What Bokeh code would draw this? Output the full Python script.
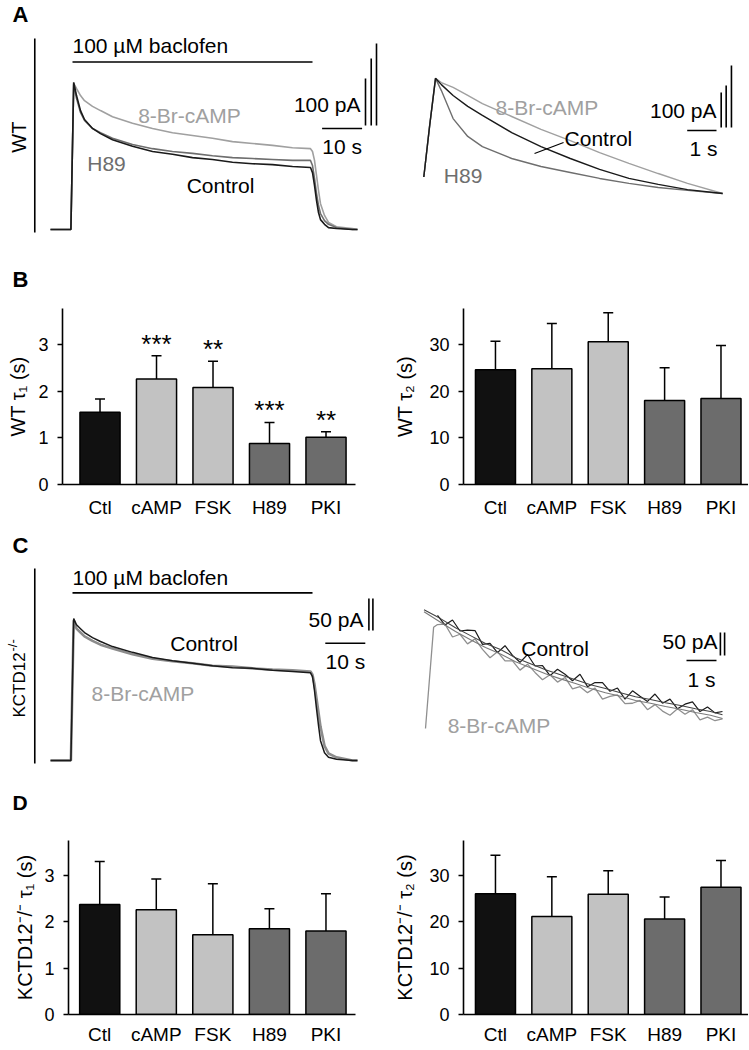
import math
from bokeh.plotting import figure
from bokeh.models import Range1d, FixedTicker, ColumnDataSource, Whisker, TeeHead
from bokeh.layouts import column, row
from bokeh.embed import file_html
from bokeh.resources import INLINE
from bokeh.core.properties import value

FONT = "Liberation Sans"

# ---------------- bar chart data ----------------
categories = ["Ctl", "cAMP", "FSK", "H89", "PKI"]
bar_colors = ["#111111", "#c2c2c2", "#c2c2c2", "#6c6c6c", "#6c6c6c"]

wt_tau1_mean = [1.55, 2.26, 2.08, 0.88, 1.01]
wt_tau1_err = [0.28, 0.50, 0.56, 0.45, 0.12]
wt_tau1_sig = ["", "***", "**", "***", "**"]

wt_tau2_mean = [24.6, 24.8, 30.6, 18.0, 18.4]
wt_tau2_err = [6.1, 9.7, 6.2, 7.0, 11.4]

ko_tau1_mean = [2.37, 2.26, 1.72, 1.85, 1.80]
ko_tau1_err = [0.93, 0.66, 1.10, 0.43, 0.80]

ko_tau2_mean = [26.0, 21.1, 25.9, 20.6, 27.4]
ko_tau2_err = [8.3, 8.6, 5.1, 4.7, 5.8]

tau1_ticks = [0, 1, 2, 3]
tau2_ticks = [0, 10, 20, 30]

# ---------------- trace data (A, WT) ----------------
wt_time_s = [-5.5, -1, -0.4, 0.3, 1, 2, 3, 5, 7, 10, 15, 20, 25, 30, 35, 40, 45, 50, 55,
             59.5, 60, 60.5, 61, 61.5, 62, 63, 64, 66, 70, 71.25]
wt_control_pA = [0, 0, 0, 313, 285, 253, 234, 215, 204, 191, 177, 166, 160, 153, 149, 143, 140,
                 138, 134, 132, 121, 94, 62, 36, 21, 11, 4, 2, 0, 0]
wt_camp_pA = [0, 0, 0, 311, 300, 285, 274, 262, 253, 240, 226, 215, 206, 200, 194, 187, 183,
              179, 174, 172, 166, 147, 115, 83, 55, 30, 15, 6, 2, 0]
wt_h89_pA = [0, 0, 0, 309, 279, 249, 232, 215, 206, 194, 181, 172, 166, 162, 157, 153, 151,
             149, 147, 147, 136, 109, 77, 51, 34, 19, 11, 4, 0, 0]

wt_zoom_time_s = [0, 0.2, 0.4, 0.6, 1.0, 1.5, 2, 3, 4, 5, 6, 7, 8, 9, 10.2]
wt_zoom_camp = [67, 214, 349, 337, 323, 300, 277, 240, 203, 171, 137, 106, 77, 49, 20]
wt_zoom_control = [67, 214, 349, 331, 300, 269, 243, 194, 154, 120, 89, 63, 46, 31, 20]
wt_zoom_h89 = [67, 214, 349, 314, 234, 183, 154, 120, 97, 80, 63, 49, 37, 29, 20]

# ---------------- trace data (C, KCTD12-/-) ----------------
ko_time_s = wt_time_s
ko_control_pA = [0, 0, 0, 222, 212, 206, 200, 192, 186, 178, 169, 161, 156, 152, 148, 145, 144,
                 141, 139, 137, 131, 109, 81, 55, 31, 12, 5, 2, 0, 0]
ko_camp_pA = [0, 0, 0, 219, 206, 200, 194, 187, 181, 175, 166, 159, 155, 152, 148, 147, 144,
              142, 141, 139, 134, 119, 97, 75, 53, 23, 11, 5, 0, 0]

ko_zoom_time_black = [0.4, 0.65, 0.9, 1.15, 1.4, 1.65, 1.9, 2.15, 2.4, 2.65, 2.9, 3.15, 3.4,
                      3.65, 3.9, 4.15, 4.4, 4.65, 4.9, 5.15, 5.4, 5.65, 5.9, 6.15, 6.4, 6.65,
                      6.9, 7.15, 7.4, 7.65, 7.9, 8.15, 8.4, 8.65, 8.9, 9.15, 9.4, 9.65, 9.9]
ko_zoom_control = [272, 251, 262, 238, 240, 239, 209, 211, 191, 206, 185, 170, 187, 162, 163,
                   141, 155, 144, 130, 144, 117, 126, 126, 107, 114, 90, 108, 96, 85, 101, 81,
                   90, 69, 79, 84, 63, 73, 60, 63]
ko_zoom_time_grey = [0, 0.27, 0.4, 0.65, 0.9, 1.15, 1.4, 1.65, 1.9, 2.15, 2.4, 2.65, 2.9, 3.15,
                     3.4, 3.65, 3.9, 4.15, 4.4, 4.65, 4.9, 5.15, 5.4, 5.65, 5.9, 6.15, 6.4,
                     6.65, 6.9, 7.15, 7.4, 7.65, 7.9, 8.15, 8.4, 8.65, 8.9, 9.15, 9.4, 9.65, 9.9]
ko_zoom_camp = [26, 246, 252, 253, 225, 231, 210, 221, 198, 180, 193, 173, 173, 153, 166, 148,
                132, 143, 127, 137, 112, 117, 104, 114, 90, 96, 99, 80, 81, 87, 67, 78, 64, 55,
                69, 57, 67, 45, 51, 43, 47]
ko_fit_time = [-0.05, 0.5, 1, 1.5, 2, 2.5, 3, 3.5, 4, 4.5, 5, 5.5, 6, 6.5, 7, 7.5, 8, 8.5, 9,
               9.5, 9.9]
ko_fit_control = [284, 265, 245, 228, 211, 198, 180, 167, 154, 143, 132, 121, 113, 104, 95, 89,
                  82, 76, 69, 63, 56]
ko_fit_camp = [280, 257, 237, 219, 202, 188, 171, 158, 145, 134, 124, 113, 104, 96, 87, 81, 74,
               68, 61, 55, 48]

# scale bar sizes
wt_scale_pA = [100, 142.5, 174.5]
wt_zoom_scale_pA = [100, 120, 177]
ko_scale_pA = [50, 50]

BLACK = "#1a1a1a"
GREY_L = "#a0a0a0"
GREY_D = "#6e6e6e"


def trace_fig(w, h, xr, yr):
    p = figure(width=w, height=h, x_range=Range1d(*xr), y_range=Range1d(*yr),
               output_backend="svg", toolbar_location=None, x_axis_type=None, y_axis_type=None,
               min_border=0, min_border_left=0, min_border_right=0, min_border_top=0,
               min_border_bottom=0)
    p.grid.visible = False
    p.outline_line_color = None
    p.background_fill_color = "white"
    return p


def txt(p, x, y, s, size="21px", color="black", align="center", baseline="middle", angle=0.0,
        bold=False):
    p.text(x=[x], y=[y], text=[s], text_font=value(FONT), text_font_size=size,
           text_color=color, text_align=align, text_baseline=baseline, angle=angle,
           text_font_style="bold" if bold else "normal")


def vscale(p, xs, base, heights, lw=1.6):
    p.segment(x0=xs, y0=[base] * len(xs), x1=xs, y1=[base + h for h in heights],
              line_color="black", line_width=lw)


# ---------------- A left ----------------
a1 = trace_fig(378, 292, (-18, 76.5), (-134.0, 487.2))
a1.segment(x0=[-9.43], y0=[-6.4], x1=[-9.43], y1=[406.4], line_color="black", line_width=1.6)
a1.segment(x0=[0], y0=[356.4], x1=[60], y1=[356.4], line_color="black", line_width=1.6)
txt(a1, 0, 391.5, "100 µM baclofen", align="left")
a1.line(wt_time_s, wt_camp_pA, line_color=GREY_L, line_width=1.6)
a1.line(wt_time_s, wt_h89_pA, line_color=GREY_D, line_width=1.6)
a1.line(wt_time_s, wt_control_pA, line_color=BLACK, line_width=1.6)
txt(a1, 29.25, 242.6, "8-Br-cAMP", color=GREY_L)
txt(a1, 8.5, 140.4, "H89", color=GREY_D)
txt(a1, 37, 93.6, "Control")
txt(a1, 72, 266, "100 pA", align="right")
vscale(a1, [73.25, 74.68, 76.0], 221.3, wt_scale_pA)
a1.segment(x0=[62.4], y0=[214.9], x1=[72.4], y1=[214.9], line_color="black", line_width=1.6)
txt(a1, 67.4, 176.6, "10 s")
txt(a1, -13.4, 196.4, "WT", size="20px", angle=math.pi / 2)
txt(a1, -15, 456.4, "A", size="22px", align="left", bold=True)
txt(a1, -15, -107.4, "B", size="22px", align="left", bold=True)

# ---------------- A right ----------------
a2 = trace_fig(370, 292, (-1.546, 11.082), (-262.9, 571.4))
a2.line(wt_zoom_time_s, wt_zoom_camp, line_color=GREY_L, line_width=1.4)
a2.line(wt_zoom_time_s, wt_zoom_h89, line_color=GREY_D, line_width=1.4)
a2.line(wt_zoom_time_s, wt_zoom_control, line_color=BLACK, line_width=1.4)
txt(a2, 4.2, 265.7, "8-Br-cAMP", color=GREY_L)
txt(a2, 5.96, 177, "Control")
a2.segment(x0=[4.77], y0=[165.7], x1=[3.78], y1=[134.3], line_color="black", line_width=1.2)
txt(a2, 1.34, 71.4, "H89", color=GREY_D)
txt(a2, 9.99, 257, "100 pA", align="right")
vscale(a2, [10.15, 10.32, 10.50], 208.6, wt_zoom_scale_pA)
a2.segment(x0=[8.99], y0=[200], x1=[9.99], y1=[200], line_color="black", line_width=1.6)
txt(a2, 9.55, 148.6, "1 s")


# ---------------- bar panels ----------------
def bar_panel(mean, err, ticks, ymax, ylabel, w, h, bl, br, bt, bb, xr, sig=None,
              x_standoff=12, y_standoff=6):
    idx = list(range(len(categories)))
    upper = [m + e for m, e in zip(mean, err)]
    p = figure(width=w, height=h, x_range=Range1d(*xr), y_range=Range1d(0, ymax),
               output_backend="svg", toolbar_location=None,
               min_border_left=bl, min_border_right=br, min_border_top=bt, min_border_bottom=bb)
    src = ColumnDataSource(dict(x=idx, top=mean, upper=upper, color=bar_colors,
                                sig=sig if sig else [""] * len(idx)))
    p.vbar(x="x", top="top", bottom=0, width=0.71, fill_color="color", line_color="black",
           line_width=1.5, source=src)
    wh = Whisker(base="x", upper="upper", lower="top", source=src, line_color="black",
                 line_width=1.5,
                 upper_head=TeeHead(size=10, line_color="black", line_width=1.5),
                 lower_head=None)
    p.add_layout(wh)
    if sig:
        p.text(x="x", y="upper", text="sig", source=src, text_align="center",
               text_baseline="alphabetic", text_font=value(FONT), text_font_size="26px",
               text_color="black", y_offset=-12)
    p.grid.visible = False
    p.outline_line_color = None
    p.xaxis.ticker = FixedTicker(ticks=idx)
    p.xaxis.major_label_overrides = {i: c for i, c in enumerate(categories)}
    p.xaxis.major_tick_line_color = None
    p.xaxis.major_tick_out = 0
    p.xaxis.major_tick_in = 0
    p.xaxis.minor_tick_line_color = None
    p.xaxis.major_label_standoff = x_standoff
    p.xaxis.major_label_text_font_size = "19px"
    p.yaxis.ticker = FixedTicker(ticks=ticks)
    p.yaxis.major_tick_out = 5
    p.yaxis.major_tick_in = 0
    p.yaxis.minor_tick_line_color = None
    p.yaxis.major_label_standoff = 9
    p.yaxis.major_label_text_font_size = "18px"
    p.yaxis.axis_label = ylabel
    p.yaxis.axis_label_standoff = y_standoff
    for ax in (p.xaxis, p.yaxis):
        ax.axis_line_width = 1.6
        ax.axis_line_color = "black"
        ax.major_tick_line_width = 1.5
        ax.major_label_text_font = FONT
        ax.major_label_text_color = "black"
        ax.axis_label_text_font = FONT
        ax.axis_label_text_font_size = "20px"
        ax.axis_label_text_font_style = "normal"
        ax.axis_label_text_color = "black"
    return p


b1 = bar_panel(wt_tau1_mean, wt_tau1_err, tau1_ticks, 3.77, "WT τ₁ (s)", 378, 238,
               62, 23, 16, 46, (-0.664, 4.522), sig=wt_tau1_sig, x_standoff=12, y_standoff=6)
b2 = bar_panel(wt_tau2_mean, wt_tau2_err, tau2_ticks, 37.7, "WT τ₂ (s)", 370, 238,
               85, 0, 16, 46, (-0.567, 4.488), x_standoff=12, y_standoff=10)

# ---------------- C left ----------------
c1 = trace_fig(378, 286, (-18, 76.5), (-87.5, 359.4))
c1.segment(x0=[-9.43], y0=[-4.7], x1=[-9.43], y1=[300], line_color="black", line_width=1.6)
c1.segment(x0=[0], y0=[262], x1=[60], y1=[262], line_color="black", line_width=1.6)
txt(c1, 0, 286.4, "100 µM baclofen", align="left")
c1.line(ko_time_s, ko_camp_pA, line_color="#8c8c8c", line_width=2.6)
c1.line(ko_time_s, ko_control_pA, line_color=BLACK, line_width=1.5)
txt(c1, 32.9, 182.3, "Control")
txt(c1, 17.6, 104.2, "8-Br-cAMP", color=GREY_L)
txt(c1, 72.75, 220.3, "50 pA", align="right")
vscale(c1, [74.1, 75.1], 203.1, ko_scale_pA)
c1.segment(x0=[63.2], y0=[183.3], x1=[73.2], y1=[183.3], line_color="black", line_width=1.6)
txt(c1, 68.2, 154.7, "10 s")
txt(c1, -13.25, 67.2, "KCTD12", size="17px", align="left", angle=math.pi / 2)
txt(c1, -14.9, 170.3, "-/-", size="13px", align="left", angle=math.pi / 2)
txt(c1, -15, 335.9, "C", size="22px", align="left", bold=True)
txt(c1, -15, -65.6, "D", size="21px", align="left", bold=True)

# ---------------- C right ----------------
c2 = trace_fig(370, 286, (-1.567, 10.767), (-165.2, 456.5))
c2.line(ko_zoom_time_grey, ko_zoom_camp, line_color="#8f8f8f", line_width=1.3)
c2.line(ko_zoom_time_black, ko_zoom_control, line_color=BLACK, line_width=1.2)
c2.line(ko_fit_time, ko_fit_camp, line_color="#7a7a7a", line_width=1.1)
c2.line(ko_fit_time, ko_fit_control, line_color="#444444", line_width=1.1)
txt(c2, 4.32, 200, "Control")
txt(c2, 2.45, 32.6, "8-Br-cAMP", color=GREY_L)
txt(c2, 9.73, 215, "50 pA", align="right")
vscale(c2, [9.83, 9.97], 184.8, ko_scale_pA)
c2.segment(x0=[8.7], y0=[173.9], x1=[9.7], y1=[173.9], line_color="black", line_width=1.6)
txt(c2, 9.2, 132.6, "1 s")

# ---------------- D ----------------
d1 = bar_panel(ko_tau1_mean, ko_tau1_err, tau1_ticks, 3.75, "KCTD12⁻/⁻ τ₁ (s)", 378, 232,
               68, 23, 24, 34, (-0.552, 4.522), x_standoff=9, y_standoff=5)
d2 = bar_panel(ko_tau2_mean, ko_tau2_err, tau2_ticks, 37.5, "KCTD12⁻/⁻ τ₂ (s)", 370, 232,
               85, 0, 24, 34, (-0.567, 4.488), x_standoff=9, y_standoff=10)

layout = column(row(a1, a2), row(b1, b2), row(c1, c2), row(d1, d2))

open("out.html", "w").write(file_html(layout, INLINE))
